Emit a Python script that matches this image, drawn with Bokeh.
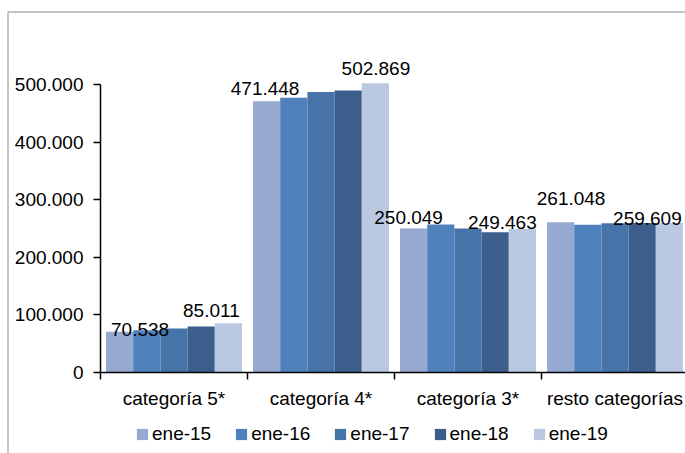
from bokeh.plotting import figure
from bokeh.models import (ColumnDataSource, Range1d, FixedTicker, Legend, LegendItem,
                          BoxAnnotation)
from bokeh.core.properties import value
from bokeh.embed import file_html
from bokeh.resources import INLINE

# ---- data ----
categories = ["categoría 5*", "categoría 4*", "categoría 3*", "resto categorías"]
series = ["ene-15", "ene-16", "ene-17", "ene-18", "ene-19"]
ene15 = [70538, 471448, 250049, 261048]
ene16 = [73000, 477800, 257000, 256700]
ene17 = [76000, 487600, 250000, 259200]
ene18 = [79500, 490500, 243600, 259500]
ene19 = [85011, 502869, 249463, 259609]
y_ticks = [0, 100000, 200000, 300000, 400000, 500000]
y_tick_labels = ["0", "100.000", "200.000", "300.000", "400.000", "500.000"]

# ---- style ----
colors = ["#95A9D1", "#4F81BD", "#4673A8", "#3B5E8D", "#BBC8E1"]
label_dx = [[20.5, -17], [-1.5, 0.5], [-5, -20], [10.5, -22]]
label_dy = [[-2, -13], [-13, -14.5], [-11, -6], [-24, -5]]
FONT = "Liberation Sans"
FS = "19px"
W, H = 685, 453
X0_PX, Y0_PX = 100.0, 371.7      # pixel position of data origin
PX_PER_CAT = 147.0
PX_PER_100K = 57.45
bar_w = 27.2 / PX_PER_CAT

values = [ene15, ene16, ene17, ene18, ene19]

x_range = Range1d(-X0_PX / PX_PER_CAT, (W - X0_PX) / PX_PER_CAT)
y_range = Range1d(-(H - Y0_PX) / PX_PER_100K * 1e5, Y0_PX / PX_PER_100K * 1e5)

p = figure(width=W, height=H, output_backend="svg", toolbar_location=None,
           x_range=x_range, y_range=y_range,
           min_border_left=0, min_border_right=0, min_border_top=0,
           min_border_bottom=0)
p.outline_line_color = None
p.xgrid.visible = False
p.ygrid.visible = False
p.background_fill_color = "white"
p.border_fill_color = "white"

items = []
for j, (name, vals) in enumerate(zip(series, values)):
    xs = [i + 0.5 + (j - 2) * bar_w for i in range(len(categories))]
    src = ColumnDataSource(dict(x=xs, top=vals))
    r = p.vbar(x="x", top="top", bottom=0, width=bar_w, source=src,
               fill_color=colors[j], line_color=None)
    items.append(LegendItem(label=name, renderers=[r]))

# data labels (first and last series of each category)
lx, ly, lt, ldx, ldy = [], [], [], [], []
for i in range(len(categories)):
    for k, j in enumerate([0, 4]):
        v = values[j][i]
        lx.append(i + 0.5 + (j - 2) * bar_w)
        ly.append(v)
        lt.append(f"{v:,}".replace(",", "."))
        ldx.append(label_dx[i][k])
        ldy.append(label_dy[i][k])
lsrc = ColumnDataSource(dict(x=lx, y=ly, t=lt, dx=ldx, dy=ldy))
p.text(x="x", y="y", text="t", x_offset="dx", y_offset="dy", source=lsrc,
       text_align="center", text_baseline="alphabetic",
       text_font=value(FONT), text_font_size=FS, text_color="black")

# y axis (drawn inside the frame at x = 0)
ya = p.yaxis[0]
ya.fixed_location = 0
ya.ticker = FixedTicker(ticks=y_ticks, minor_ticks=[])
ya.major_label_overrides = {t: s for t, s in zip(y_ticks, y_tick_labels)}
ya.bounds = (0, 500000)
ya.major_tick_out = 7
ya.major_tick_in = 0
ya.minor_tick_out = 0
ya.minor_tick_in = 0
ya.major_label_standoff = 10
ya.major_label_text_font = FONT
ya.major_label_text_font_size = FS
ya.major_label_text_color = "black"
ya.axis_line_color = "black"
ya.axis_line_width = 1.5
ya.major_tick_line_color = "black"
ya.major_tick_line_width = 1.5

# x axis: labels at category centres, tick marks at boundaries
xa = p.xaxis[0]
xa.fixed_location = 0
xa.bounds = (0, len(categories))
xa.ticker = FixedTicker(ticks=[i + 0.5 for i in range(len(categories))],
                        minor_ticks=[float(i) for i in range(len(categories) + 1)])
xa.major_label_overrides = {i + 0.5: c for i, c in enumerate(categories)}
xa.major_tick_out = 0
xa.major_tick_in = 0
xa.minor_tick_out = 7
xa.minor_tick_in = 0
xa.minor_tick_line_color = "black"
xa.minor_tick_line_width = 1.5
xa.major_label_standoff = 9
xa.major_label_text_font = FONT
xa.major_label_text_font_size = FS
xa.major_label_text_color = "black"
xa.axis_line_color = "black"
xa.axis_line_width = 1.5

legend = Legend(items=items, orientation="horizontal", location=(135, 8),
                glyph_width=14, glyph_height=14, label_standoff=3, spacing=23,
                padding=0, margin=0, border_line_color=None,
                background_fill_alpha=0,
                label_text_font=FONT, label_text_font_size=FS,
                label_text_color="black")
p.add_layout(legend, "center")

# outer chart border (top and left edges visible in the window)
box = BoxAnnotation(left=7.5, right=W + 20, top=11.5, bottom=H + 20,
                    left_units="canvas", right_units="canvas",
                    top_units="canvas", bottom_units="canvas",
                    fill_alpha=0, line_color="black", line_width=1.5,
                    level="overlay")
p.add_layout(box)

open("out.html", "w").write(file_html(p, INLINE))
